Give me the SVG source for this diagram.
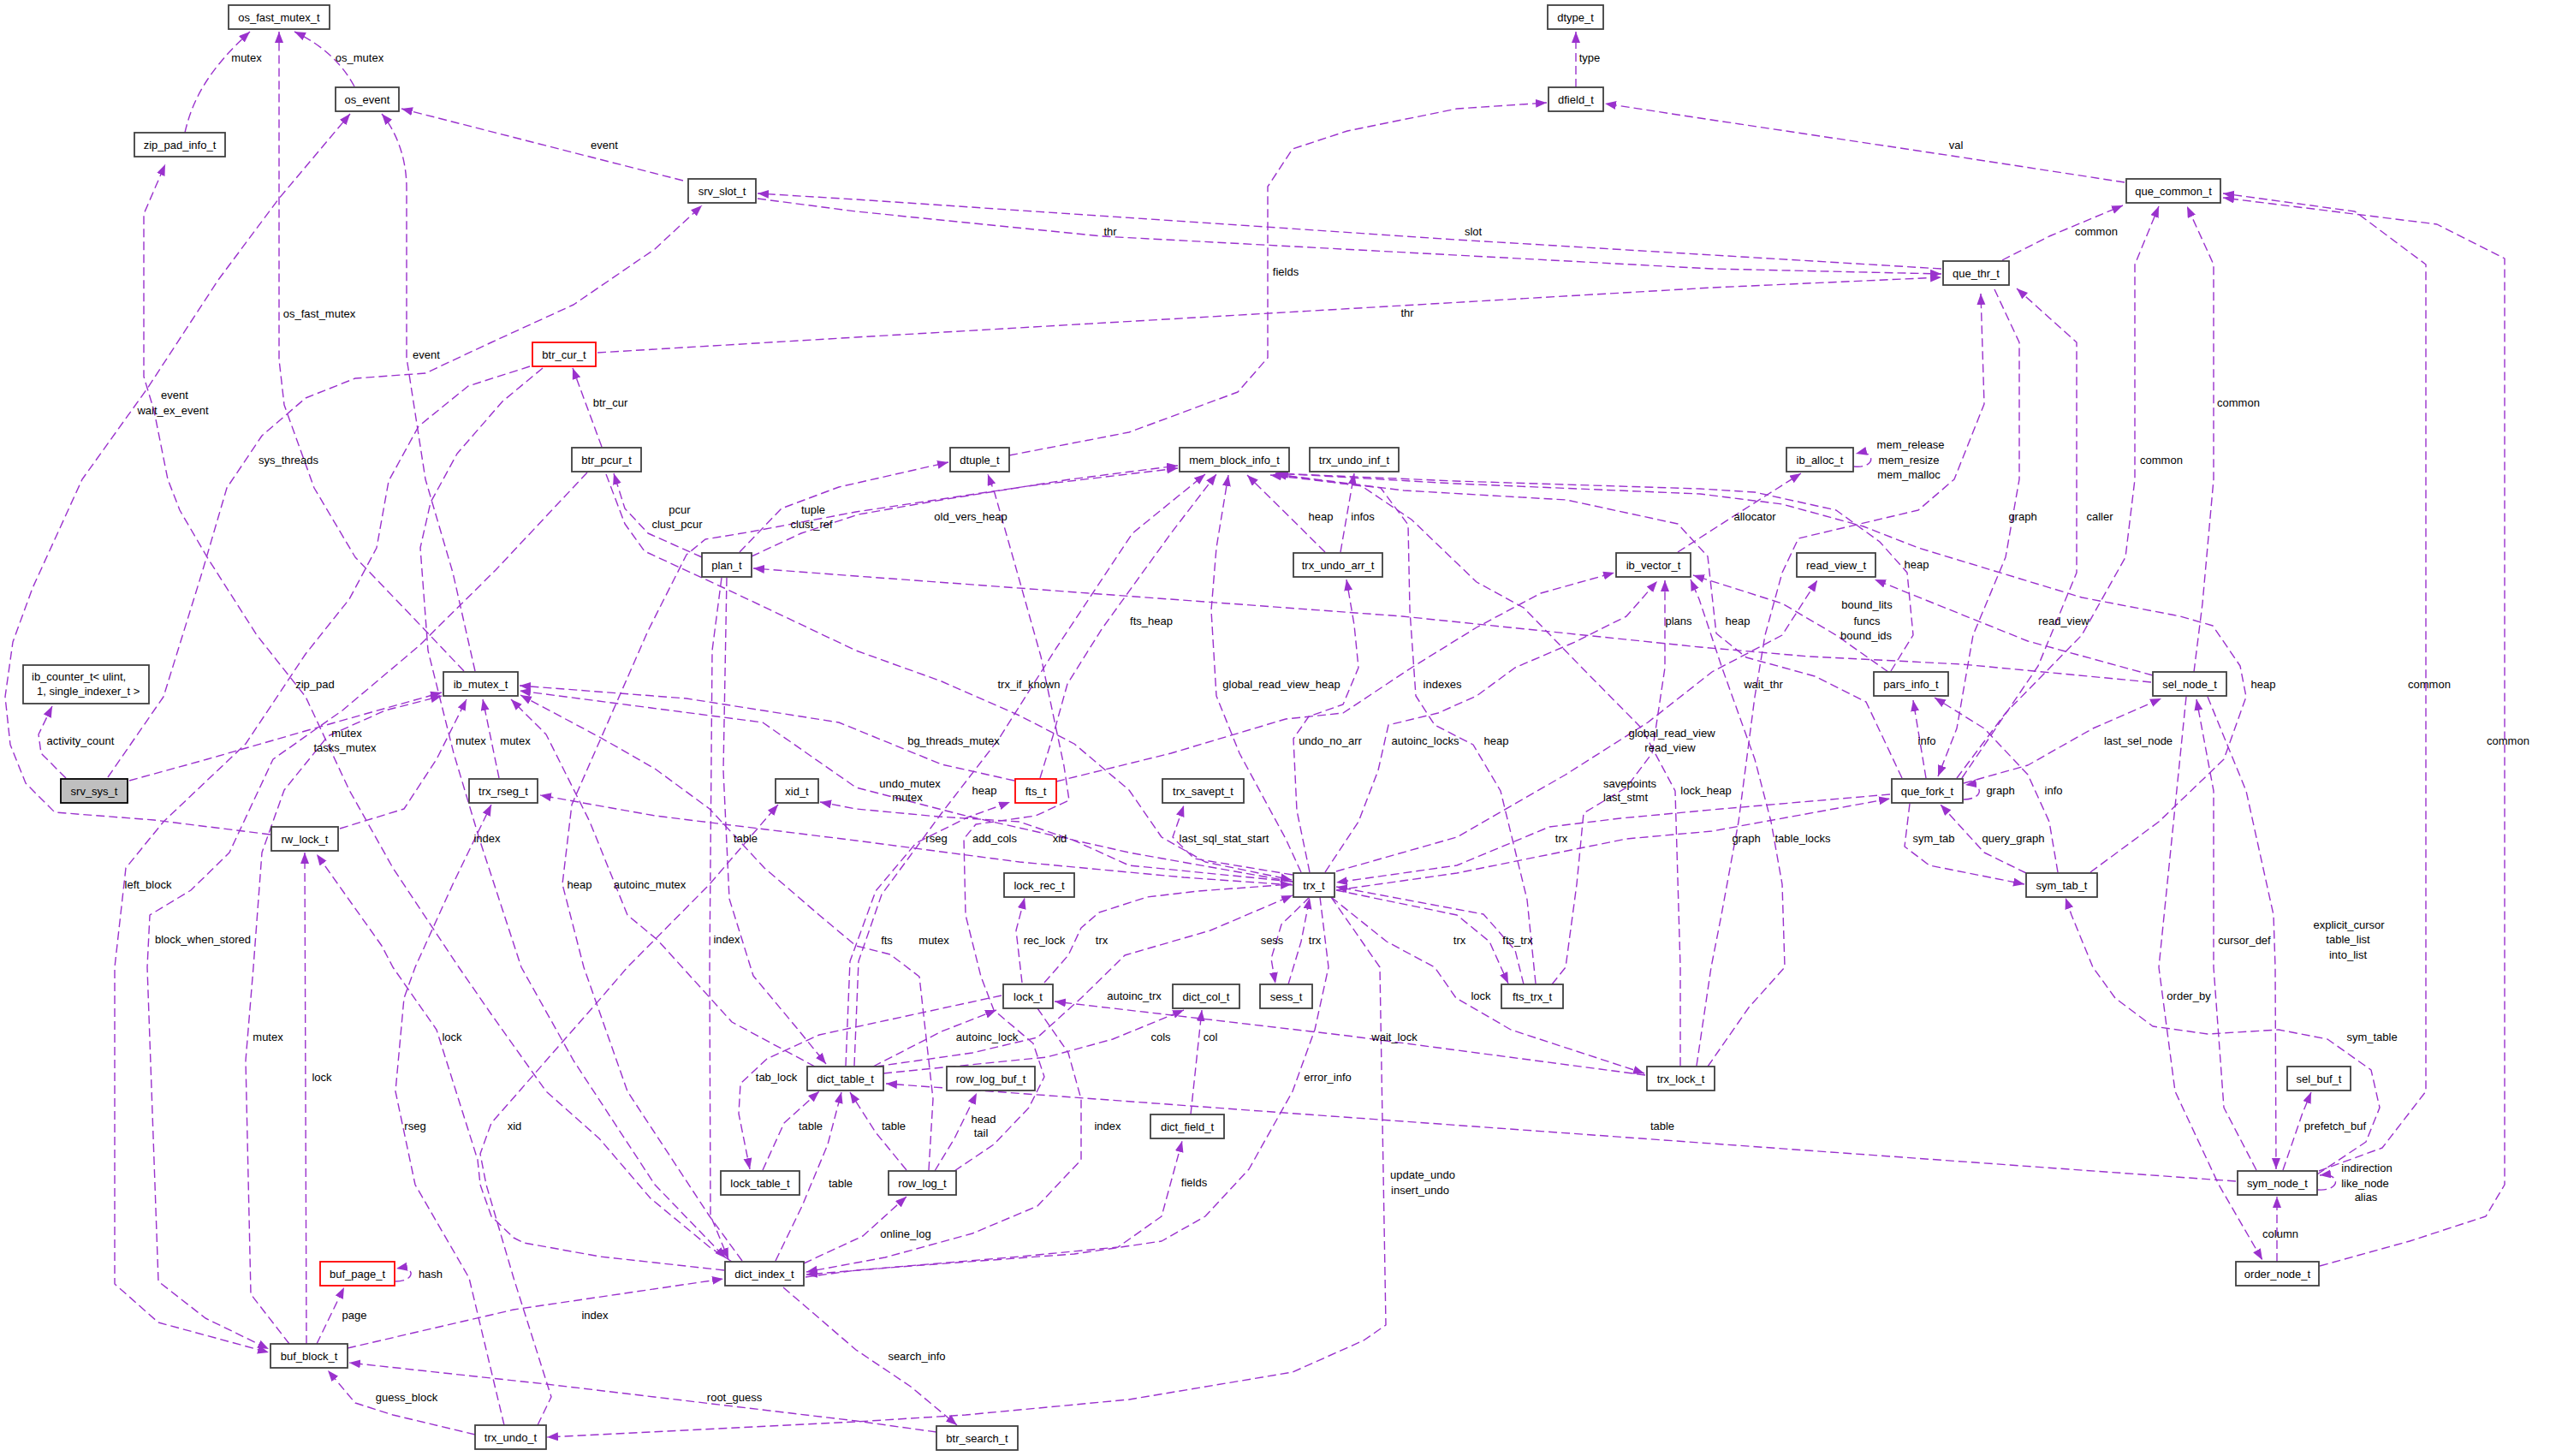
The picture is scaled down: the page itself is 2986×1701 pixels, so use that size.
<svg xmlns="http://www.w3.org/2000/svg" width="2986" height="1701" viewBox="0 0 2986 1701">
<defs>
<marker id="a" markerUnits="userSpaceOnUse" markerWidth="14" markerHeight="12" refX="13" refY="5" orient="auto"><path d="M0,0 L13,5 L0,10 z" fill="#9a32cd" stroke="none"/></marker>
<style>
.n rect{fill:#fff;stroke:#404040;stroke-width:1.8}
.n.r rect{stroke:#ff0000}
.n.g rect{fill:#bfbfbf;stroke:#000}
text{font-family:"Liberation Sans",Arial,sans-serif;font-size:13px;fill:#000}
.n text{text-anchor:middle}
#labels text{text-anchor:middle}
.e{fill:none;stroke:#9a32cd;stroke-width:1.4;stroke-dasharray:10,5;stroke-linejoin:round;marker-end:url(#a)}
</style>
</defs>
<rect width="2986" height="1701" fill="#fff"/>
<g id="edges">
<path class="e" d="M216,155 C225,115 245,80 292,37"/>
<path class="e" d="M414,101 Q392,60 344,37"/>
<path class="e" d="M542,784 L485,724 L415,651 L367,570 L332,473 L326,420 L326,37"/>
<path class="e" d="M798,211 L469,127"/>
<path class="e" d="M555,784 L529,669 L497,560 L475,418 L475,220 C475,180 460,150 446,133"/>
<path class="e" d="M316,975 L180,958 L64,949 L30,915 L12,870 L6,814 L15,750 L38,687 L96,560 L172,454 L255,327 L325,233 L409,133"/>
<path class="e" d="M855,1474 L829,1457 L760,1400 L700,1330 L638,1275 L574,1185 L536,1130 L459,1014 L408,923 L357,814 L300,742 L242,651 L210,596 L196,560 L180,480 L168,440 L168,250 L193,192"/>
<path class="e" d="M126,908 L191,814 L236,669 L265,570 L306,509 L357,465 L415,442 L497,436 L574,400 L670,356 L765,291 L820,240"/>
<path class="e" d="M2268,314 L1701,280 L1000,233 L885,226"/>
<path class="e" d="M885,232 L1000,247 L1287,276 L2000,314 L2268,320"/>
<path class="e" d="M698,412 L1000,394 L2000,336 L2268,324"/>
<path class="e" d="M703,522 L669,430"/>
<path class="e" d="M2339,304 L2394,276 L2480,240"/>
<path class="e" d="M2482,213 L2280,182 L1986,138 L1875,121"/>
<path class="e" d="M1841,102 L1841,37"/>
<path class="e" d="M1179,532 L1319,505 L1446,458 L1481,418 L1481,218 L1510,174 L1574,153 L1702,127 L1807,120"/>
<path class="e" d="M2166,545 C2192,548 2192,524 2168,530"/>
<path class="e" d="M1960,645 L2030,600 L2104,553"/>
<path class="e" d="M2209,784 L2235,742 L2228,669 L2196,633 L2145,596 L2050,575 L1986,571 L1700,562 L1490,553"/>
<path class="e" d="M2442,1019 L2522,960 L2598,887 L2624,814 L2617,778 L2585,731 L2547,720 L2432,698 L2241,640 L2177,615 L2082,589 L1986,577 L1700,565 L1492,553"/>
<path class="e" d="M2222,909 L2180,820 L2120,790 L2040,768 L2005,740 L1995,650 L1960,612 L1830,584 L1640,573 L1490,554"/>
<path class="e" d="M878,650 L936,623 L1003,601 L1100,584 L1250,560 L1376,544"/>
<path class="e" d="M867,1473 L829,1421 L733,1275 L682,1130 L657,1033 L668,940 L757,737 L802,648 L824,630 L873,622 L1000,598 L1200,568 L1376,547"/>
<path class="e" d="M998,1245 L1003,1123 L1030,1045 L1100,950 L1167,863 L1234,757 L1323,623 L1408,554"/>
<path class="e" d="M1215,909 L1230,860 L1247,799 L1287,735 L1368,623 L1421,554"/>
<path class="e" d="M1520,1019 L1502,980 L1448,880 L1421,813 L1415,713 L1421,640 L1435,555"/>
<path class="e" d="M1548,645 L1457,555"/>
<path class="e" d="M1566,645 L1582,553"/>
<path class="e" d="M1794,1149 L1784,1051 L1753,924 L1721,870 L1676,847 L1654,813 L1647,713 L1645,613 L1613,570 L1484,555"/>
<path class="e" d="M1963,1245 L1963,1130 L1957,924 L1918,851 L1848,780 L1780,710 L1725,680 L1649,607 L1591,568 L1490,554"/>
<path class="e" d="M864,645 L913,594 L980,569 L1108,540"/>
<path class="e" d="M820,651 L757,623 L730,594 L717,553"/>
<path class="e" d="M708,554 L730,612 L753,644 L846,687 L1000,760 L1100,796 L1191,836 L1255,869 L1319,923 L1357,978 L1408,1007 L1509,1028"/>
<path class="e" d="M843,675 L832,760 L829,1130 L830,1420 L851,1471"/>
<path class="e" d="M849,675 L845,900 L852,1050 L880,1140 L930,1200 L965,1243"/>
<path class="e" d="M2513,797 L2292,776 L2114,767 L1986,756 L1638,720 L1000,673 L880,664"/>
<path class="e" d="M77,909 L48,880 L45,858 L61,825"/>
<path class="e" d="M151,912 L242,887 L395,843 L516,809"/>
<path class="e" d="M397,968 L472,945 L510,887 L545,817"/>
<path class="e" d="M583,909 L564,817"/>
<path class="e" d="M952,1246 L855,1194 L768,1098 L733,1069 L689,960 L638,858 L597,817"/>
<path class="e" d="M1185,912 L1100,893 L980,844 L802,816 L607,801"/>
<path class="e" d="M1510,1030 L1319,996 L1128,953 L1000,920 L891,844 L607,807"/>
<path class="e" d="M1085,1367 L1090,1284 L1074,1141 L1040,1115 L1000,1105 L957,1069 L893,1014 L829,945 L765,898 L702,862 L608,812"/>
<path class="e" d="M1510,1034 L1383,1025 L1191,1007 L1000,982 L765,953 L631,929"/>
<path class="e" d="M589,1665 L548,1493 L485,1384 L462,1275 L472,1166 L485,1130 L529,1033 L574,940"/>
<path class="e" d="M1510,1030 L1319,1011 L1255,982 L1191,960 L1096,954 L1000,945 L958,937"/>
<path class="e" d="M628,1665 L644,1632 L600,1493 L568,1384 L561,1348 L574,1312 L638,1239 L702,1166 L733,1130 L829,1033 L909,940"/>
<path class="e" d="M358,1570 L356,996"/>
<path class="e" d="M846,1484 L701,1468 L612,1452 L600,1446 L574,1421 L561,1384 L558,1355 L510,1203 L459,1130 L446,1105 L370,998"/>
<path class="e" d="M619,428 L547,451 L489,498 L454,562 L440,640 L408,700 L357,764 L287,869 L191,960 L147,1014 L134,1130 L134,1500 L185,1545 L314,1580"/>
<path class="e" d="M686,552 L579,666 L489,755 L400,830 L319,887 L268,996 L223,1040 L175,1069 L172,1130 L185,1497 L240,1540 L314,1576"/>
<path class="e" d="M338,1570 L293,1512 L287,1239 L296,1130 L306,996 L332,923 L383,860 L450,830 L516,813"/>
<path class="e" d="M370,1570 L402,1504"/>
<path class="e" d="M406,1575 L600,1530 L845,1494"/>
<path class="e" d="M462,1497 C486,1497 486,1478 463,1482"/>
<path class="e" d="M555,1676 L459,1653 L415,1639 L383,1601"/>
<path class="e" d="M1094,1673 L1000,1660 L638,1617 L408,1592"/>
<path class="e" d="M634,430 L587,469 L534,530 L503,587 L491,640 L500,760 L530,880 L560,980 L609,1130 L670,1239 L765,1384 L848,1470"/>
<path class="e" d="M1212,1178 L1248,1230 L1263,1284 L1263,1355 L1212,1409 L1136,1441 L1034,1469 L942,1486"/>
<path class="e" d="M1542,1048 L1552,1130 L1536,1203 L1510,1275 L1459,1366 L1408,1421 L1357,1450 L1255,1465 L1064,1479 L942,1489"/>
<path class="e" d="M941,1492 L1000,1484 L1191,1468 L1306,1457 L1357,1421 L1381,1333"/>
<path class="e" d="M906,1473 L937,1409 L967,1337 L983,1276"/>
<path class="e" d="M939,1476 L1008,1444 L1059,1398"/>
<path class="e" d="M915,1504 L1000,1577 L1064,1620 L1118,1665"/>
<path class="e" d="M891,1367 L916,1312 L957,1275"/>
<path class="e" d="M1059,1367 L1023,1323 L993,1276"/>
<path class="e" d="M2612,1380 L1986,1335 L1500,1300 L1035,1266"/>
<path class="e" d="M988,1245 L993,1123 L1023,1041 L1070,985 L1130,955 L1180,937"/>
<path class="e" d="M1170,1163 L1059,1187 L957,1209 L896,1237 L865,1266 L863,1301 L876,1366"/>
<path class="e" d="M1194,1148 L1187,1087 L1197,1049"/>
<path class="e" d="M1220,1148 L1248,1116 L1263,1084 L1284,1066 L1340,1048 L1400,1041 L1509,1033"/>
<path class="e" d="M1020,1246 L1100,1205 L1164,1180"/>
<path class="e" d="M1023,1246 L1136,1230 L1212,1212 L1263,1166 L1314,1116 L1414,1087 L1510,1046"/>
<path class="e" d="M1032,1254 L1223,1235 L1300,1214 L1383,1180"/>
<path class="e" d="M1391,1302 L1404,1180"/>
<path class="e" d="M1922,1256 L1574,1210 L1232,1170"/>
<path class="e" d="M1555,1048 L1620,1100 L1676,1130 L1701,1166 L1765,1203 L1921,1254"/>
<path class="e" d="M1530,1048 L1497,1080 L1485,1120 L1490,1149"/>
<path class="e" d="M1505,1150 L1520,1100 L1530,1049"/>
<path class="e" d="M1561,1040 L1702,1069 L1740,1100 L1762,1149"/>
<path class="e" d="M1780,1150 L1770,1110 L1733,1068 L1561,1036"/>
<path class="e" d="M1813,1150 L1829,1130 L1842,1033 L1850,950 L1900,920 L1930,880 L1945,780 L1945,678"/>
<path class="e" d="M1548,1019 L1587,960 L1610,900 L1622,847 L1680,833 L1725,813 L1770,780 L1840,750 L1900,720 L1936,679"/>
<path class="e" d="M1234,913 L1368,880 L1502,840 L1569,833 L1649,780 L1725,733 L1800,693 L1886,669"/>
<path class="e" d="M1982,1245 L1999,1130 L2011,1069 L2031,960 L2050,814 L2062,742 L2082,669 L2101,629 L2241,596 L2283,560 L2318,472 L2314,343"/>
<path class="e" d="M1995,1246 L2043,1177 L2085,1130 L2082,1033 L2069,960 L2050,887 L2011,778 L1985,700 L1975,677"/>
<path class="e" d="M2206,785 L2145,742 L2082,705 L1978,672"/>
<path class="e" d="M1561,1018 L1702,978 L1829,905 L1925,844 L2000,785 L2082,742 L2123,678"/>
<path class="e" d="M2515,789 L2369,749 L2190,677"/>
<path class="e" d="M2250,909 L2235,818"/>
<path class="e" d="M2404,1019 L2394,960 L2369,905 L2318,851 L2260,815"/>
<path class="e" d="M2330,338 L2359,400 L2359,560 L2343,651 L2305,742 L2286,851 L2264,907"/>
<path class="e" d="M2292,909 L2381,778 L2426,669 L2426,400 L2356,337"/>
<path class="e" d="M2294,934 C2318,934 2318,914 2296,917"/>
<path class="e" d="M1561,1040 L1702,1020 L1900,980 L2000,971 L2208,933"/>
<path class="e" d="M2208,928 L2000,946 L1893,956 L1810,966 L1702,1011 L1561,1031"/>
<path class="e" d="M2231,939 L2225,989 L2254,1011 L2365,1033"/>
<path class="e" d="M2367,1020 L2318,996 L2267,940"/>
<path class="e" d="M2294,915 L2369,894 L2445,851 L2525,816"/>
<path class="e" d="M2286,909 L2343,833 L2432,742 L2483,651 L2494,560 L2494,309 L2522,241"/>
<path class="e" d="M2563,785 L2573,705 L2586,560 L2586,309 L2555,241"/>
<path class="e" d="M2709,1368 L2783,1341 L2834,1275 L2834,309 L2751,247 L2597,226"/>
<path class="e" d="M2710,1479 L2815,1450 L2904,1421 L2926,1384 L2926,302 L2847,262 L2597,231"/>
<path class="e" d="M2554,814 L2522,1130 L2541,1275 L2592,1384 L2643,1472"/>
<path class="e" d="M2636,1367 L2598,1294 L2586,1130 L2586,924 L2566,817"/>
<path class="e" d="M2579,814 L2624,924 L2656,1069 L2658,1130 L2659,1366"/>
<path class="e" d="M2667,1367 L2690,1300 L2700,1276"/>
<path class="e" d="M2660,1474 L2660,1398"/>
<path class="e" d="M2708,1390 C2734,1392 2736,1370 2710,1373"/>
<path class="e" d="M2707,1372 L2764,1334 L2780,1294 L2770,1250 L2719,1214 L2662,1203 L2579,1208 L2515,1199 L2471,1166 L2445,1130 L2420,1069 L2413,1049"/>
<path class="e" d="M1555,1048 L1612,1130 L1619,1548 L1593,1566 L1510,1603 L1319,1635 L1128,1653 L1000,1661 L639,1679"/>
<path class="e" d="M1510,1022 L1395,1003 L1370,978 L1383,941"/>
<path class="e" d="M1092,1368 L1115,1330 L1141,1277"/>
<path class="e" d="M1115,1368 L1161,1337 L1202,1294 L1220,1258 L1207,1219 L1161,1180 L1146,1141 L1128,1069 L1126,980 L1140,963 L1210,953 L1249,935 L1243,895 L1216,767 L1189,671 L1162,576 L1154,554"/>
<path class="e" d="M1530,1019 L1515,947 L1511,863 L1529,837 L1569,823 L1587,780 L1582,730 L1573,677"/>
</g>
<g id="labels">
<text x="288" y="72">mutex</text>
<text x="420" y="72">os_mutex</text>
<text x="706" y="174">event</text>
<text x="373" y="371">os_fast_mutex</text>
<text x="498" y="419">event</text>
<text x="204" y="466">event</text>
<text x="202" y="484">wait_ex_event</text>
<text x="337" y="542">sys_threads</text>
<text x="713" y="475">btr_cur</text>
<text x="1857" y="72">type</text>
<text x="1297" y="275">thr</text>
<text x="1721" y="275">slot</text>
<text x="1502" y="322">fields</text>
<text x="1644" y="370">thr</text>
<text x="2285" y="174">val</text>
<text x="2449" y="275">common</text>
<text x="2615" y="475">common</text>
<text x="2525" y="542">common</text>
<text x="2232" y="524">mem_release</text>
<text x="2230" y="542">mem_resize</text>
<text x="2230" y="559">mem_malloc</text>
<text x="794" y="600">pcur</text>
<text x="791" y="617">clust_pcur</text>
<text x="950" y="600">tuple</text>
<text x="948" y="617">clust_ref</text>
<text x="368" y="804">zip_pad</text>
<text x="94" y="870">activity_count</text>
<text x="405" y="861">mutex</text>
<text x="403" y="878">tasks_mutex</text>
<text x="550" y="870">mutex</text>
<text x="602" y="870">mutex</text>
<text x="569" y="984">index</text>
<text x="871" y="984">table</text>
<text x="173" y="1038">left_block</text>
<text x="677" y="1038">heap</text>
<text x="759" y="1038">autoinc_mutex</text>
<text x="237" y="1102">block_when_stored</text>
<text x="849" y="1102">index</text>
<text x="1134" y="608">old_vers_heap</text>
<text x="1543" y="608">heap</text>
<text x="1592" y="608">infos</text>
<text x="1345" y="730">fts_heap</text>
<text x="1961" y="730">plans</text>
<text x="1202" y="804">trx_if_known</text>
<text x="1497" y="804">global_read_view_heap</text>
<text x="1685" y="804">indexes</text>
<text x="1114" y="870">bg_threads_mutex</text>
<text x="1554" y="870">undo_no_arr</text>
<text x="1665" y="870">autoinc_locks</text>
<text x="1748" y="870">heap</text>
<text x="1953" y="861">global_read_view</text>
<text x="1951" y="878">read_view</text>
<text x="1063" y="920">undo_mutex</text>
<text x="1060" y="936">mutex</text>
<text x="1150" y="928">heap</text>
<text x="1904" y="920">savepoints</text>
<text x="1899" y="936">last_stmt</text>
<text x="1993" y="928">lock_heap</text>
<text x="1094" y="984">rseg</text>
<text x="1162" y="984">add_cols</text>
<text x="1238" y="984">xid</text>
<text x="1430" y="984">last_sql_stat_start</text>
<text x="1824" y="984">trx</text>
<text x="1036" y="1103">fts</text>
<text x="1091" y="1103">mutex</text>
<text x="1220" y="1103">rec_lock</text>
<text x="1287" y="1103">trx</text>
<text x="1486" y="1103">sess</text>
<text x="1536" y="1103">trx</text>
<text x="1705" y="1103">trx</text>
<text x="1773" y="1103">fts_trx</text>
<text x="2050" y="608">allocator</text>
<text x="2363" y="608">graph</text>
<text x="2453" y="608">caller</text>
<text x="2239" y="664">heap</text>
<text x="2181" y="711">bound_lits</text>
<text x="2181" y="730">funcs</text>
<text x="2180" y="747">bound_ids</text>
<text x="2030" y="730">heap</text>
<text x="2411" y="730">read_view</text>
<text x="2060" y="804">wait_thr</text>
<text x="2644" y="804">heap</text>
<text x="2838" y="804">common</text>
<text x="2251" y="870">info</text>
<text x="2498" y="870">last_sel_node</text>
<text x="2930" y="870">common</text>
<text x="2337" y="928">graph</text>
<text x="2399" y="928">info</text>
<text x="2040" y="984">graph</text>
<text x="2106" y="984">table_locks</text>
<text x="2259" y="984">sym_tab</text>
<text x="2352" y="984">query_graph</text>
<text x="2744" y="1085">explicit_cursor</text>
<text x="2743" y="1102">table_list</text>
<text x="2743" y="1120">into_list</text>
<text x="2622" y="1103">cursor_def</text>
<text x="313" y="1216">mutex</text>
<text x="528" y="1216">lock</text>
<text x="376" y="1263">lock</text>
<text x="907" y="1263">tab_lock</text>
<text x="485" y="1320">rseg</text>
<text x="601" y="1320">xid</text>
<text x="947" y="1320">table</text>
<text x="982" y="1387">table</text>
<text x="503" y="1493">hash</text>
<text x="414" y="1541">page</text>
<text x="695" y="1541">index</text>
<text x="475" y="1637">guess_block</text>
<text x="858" y="1637">root_guess</text>
<text x="1325" y="1168">autoinc_trx</text>
<text x="1730" y="1168">lock</text>
<text x="1153" y="1216">autoinc_lock</text>
<text x="1356" y="1216">cols</text>
<text x="1414" y="1216">col</text>
<text x="1629" y="1216">wait_lock</text>
<text x="1551" y="1263">error_info</text>
<text x="1044" y="1320">table</text>
<text x="1149" y="1312">head</text>
<text x="1146" y="1328">tail</text>
<text x="1294" y="1320">index</text>
<text x="1942" y="1320">table</text>
<text x="1662" y="1377">update_undo</text>
<text x="1659" y="1395">insert_undo</text>
<text x="1395" y="1386">fields</text>
<text x="1058" y="1446">online_log</text>
<text x="1071" y="1589">search_info</text>
<text x="2557" y="1168">order_by</text>
<text x="2771" y="1216">sym_table</text>
<text x="2728" y="1320">prefetch_buf</text>
<text x="2765" y="1369">indirection</text>
<text x="2763" y="1387">like_node</text>
<text x="2764" y="1403">alias</text>
<text x="2664" y="1446">column</text>
</g>
<g id="n-os_fast_mutex_t" class="n"><rect x="267" y="6" width="118" height="28"/><text x="326" y="25">os_fast_mutex_t</text></g>
<g id="n-os_event" class="n"><rect x="392" y="102" width="74" height="28"/><text x="429" y="121">os_event</text></g>
<g id="n-zip_pad_info_t" class="n"><rect x="157" y="155" width="106" height="28"/><text x="210" y="174">zip_pad_info_t</text></g>
<g id="n-srv_slot_t" class="n"><rect x="804" y="209" width="79" height="28"/><text x="843.5" y="228">srv_slot_t</text></g>
<g id="n-btr_cur_t" class="n r"><rect x="622" y="400" width="74" height="28"/><text x="659" y="419">btr_cur_t</text></g>
<g id="n-btr_pcur_t" class="n"><rect x="668" y="523" width="81" height="28"/><text x="708.5" y="542">btr_pcur_t</text></g>
<g id="n-dtype_t" class="n"><rect x="1808" y="6" width="65" height="28"/><text x="1840.5" y="25">dtype_t</text></g>
<g id="n-dfield_t" class="n"><rect x="1809" y="102" width="64" height="28"/><text x="1841" y="121">dfield_t</text></g>
<g id="n-dtuple_t" class="n"><rect x="1110" y="523" width="69" height="28"/><text x="1144.5" y="542">dtuple_t</text></g>
<g id="n-mem_block_info_t" class="n"><rect x="1378" y="523" width="128" height="28"/><text x="1442" y="542">mem_block_info_t</text></g>
<g id="n-trx_undo_inf_t" class="n"><rect x="1530" y="523" width="104" height="28"/><text x="1582" y="542">trx_undo_inf_t</text></g>
<g id="n-que_common_t" class="n"><rect x="2484" y="209" width="110" height="28"/><text x="2539" y="228">que_common_t</text></g>
<g id="n-que_thr_t" class="n"><rect x="2270" y="305" width="77" height="28"/><text x="2308.5" y="324">que_thr_t</text></g>
<g id="n-ib_alloc_t" class="n"><rect x="2087" y="523" width="78" height="28"/><text x="2126" y="542">ib_alloc_t</text></g>
<g id="n-ib_counter_t" class="n"><rect x="27" y="777" width="147" height="45"/><text x="37" y="795" style="text-anchor:start">ib_counter_t&lt; ulint,</text><text x="43" y="812" style="text-anchor:start">1, single_indexer_t &gt;</text></g>
<g id="n-srv_sys_t" class="n g"><rect x="71" y="910" width="78" height="28"/><text x="110" y="929">srv_sys_t</text></g>
<g id="n-ib_mutex_t" class="n"><rect x="518" y="785" width="87" height="28"/><text x="561.5" y="804">ib_mutex_t</text></g>
<g id="n-trx_rseg_t" class="n"><rect x="548" y="910" width="80" height="28"/><text x="588" y="929">trx_rseg_t</text></g>
<g id="n-xid_t" class="n"><rect x="906" y="910" width="50" height="28"/><text x="931" y="929">xid_t</text></g>
<g id="n-rw_lock_t" class="n"><rect x="317" y="966" width="78" height="28"/><text x="356" y="985">rw_lock_t</text></g>
<g id="n-plan_t" class="n"><rect x="820" y="646" width="58" height="28"/><text x="849" y="665">plan_t</text></g>
<g id="n-trx_undo_arr_t" class="n"><rect x="1511" y="646" width="104" height="28"/><text x="1563" y="665">trx_undo_arr_t</text></g>
<g id="n-ib_vector_t" class="n"><rect x="1888" y="646" width="87" height="28"/><text x="1931.5" y="665">ib_vector_t</text></g>
<g id="n-fts_t" class="n r"><rect x="1186" y="910" width="48" height="28"/><text x="1210" y="929">fts_t</text></g>
<g id="n-trx_savept_t" class="n"><rect x="1358" y="910" width="95" height="28"/><text x="1405.5" y="929">trx_savept_t</text></g>
<g id="n-lock_rec_t" class="n"><rect x="1173" y="1020" width="82" height="28"/><text x="1214" y="1039">lock_rec_t</text></g>
<g id="n-trx_t" class="n"><rect x="1511" y="1020" width="48" height="28"/><text x="1535" y="1039">trx_t</text></g>
<g id="n-read_view_t" class="n"><rect x="2099" y="646" width="92" height="28"/><text x="2145" y="665">read_view_t</text></g>
<g id="n-pars_info_t" class="n"><rect x="2189" y="785" width="87" height="28"/><text x="2232.5" y="804">pars_info_t</text></g>
<g id="n-sel_node_t" class="n"><rect x="2515" y="785" width="86" height="28"/><text x="2558" y="804">sel_node_t</text></g>
<g id="n-que_fork_t" class="n"><rect x="2210" y="910" width="83" height="28"/><text x="2251.5" y="929">que_fork_t</text></g>
<g id="n-sym_tab_t" class="n"><rect x="2367" y="1020" width="83" height="28"/><text x="2408.5" y="1039">sym_tab_t</text></g>
<g id="n-lock_table_t" class="n"><rect x="842" y="1368" width="92" height="28"/><text x="888" y="1387">lock_table_t</text></g>
<g id="n-dict_table_t" class="n"><rect x="943" y="1246" width="89" height="28"/><text x="987.5" y="1265">dict_table_t</text></g>
<g id="n-buf_page_t" class="n r"><rect x="374" y="1474" width="87" height="28"/><text x="417.5" y="1493">buf_page_t</text></g>
<g id="n-dict_index_t" class="n"><rect x="847" y="1474" width="92" height="28"/><text x="893" y="1493">dict_index_t</text></g>
<g id="n-buf_block_t" class="n"><rect x="316" y="1570" width="90" height="28"/><text x="361" y="1589">buf_block_t</text></g>
<g id="n-trx_undo_t" class="n"><rect x="555" y="1665" width="83" height="28"/><text x="596.5" y="1684">trx_undo_t</text></g>
<g id="n-lock_t" class="n"><rect x="1172" y="1150" width="58" height="28"/><text x="1201" y="1169">lock_t</text></g>
<g id="n-row_log_buf_t" class="n"><rect x="1106" y="1246" width="103" height="28"/><text x="1157.5" y="1265">row_log_buf_t</text></g>
<g id="n-row_log_t" class="n"><rect x="1038" y="1368" width="79" height="28"/><text x="1077.5" y="1387">row_log_t</text></g>
<g id="n-dict_col_t" class="n"><rect x="1370" y="1150" width="78" height="28"/><text x="1409" y="1169">dict_col_t</text></g>
<g id="n-sess_t" class="n"><rect x="1472" y="1150" width="61" height="28"/><text x="1502.5" y="1169">sess_t</text></g>
<g id="n-fts_trx_t" class="n"><rect x="1754" y="1150" width="72" height="28"/><text x="1790" y="1169">fts_trx_t</text></g>
<g id="n-trx_lock_t" class="n"><rect x="1924" y="1246" width="79" height="28"/><text x="1963.5" y="1265">trx_lock_t</text></g>
<g id="n-dict_field_t" class="n"><rect x="1344" y="1302" width="86" height="28"/><text x="1387" y="1321">dict_field_t</text></g>
<g id="n-btr_search_t" class="n"><rect x="1094" y="1666" width="95" height="28"/><text x="1141.5" y="1685">btr_search_t</text></g>
<g id="n-sel_buf_t" class="n"><rect x="2672" y="1246" width="74" height="28"/><text x="2709" y="1265">sel_buf_t</text></g>
<g id="n-sym_node_t" class="n"><rect x="2614" y="1368" width="93" height="28"/><text x="2660.5" y="1387">sym_node_t</text></g>
<g id="n-order_node_t" class="n"><rect x="2612" y="1474" width="97" height="28"/><text x="2660.5" y="1493">order_node_t</text></g>
</svg>
